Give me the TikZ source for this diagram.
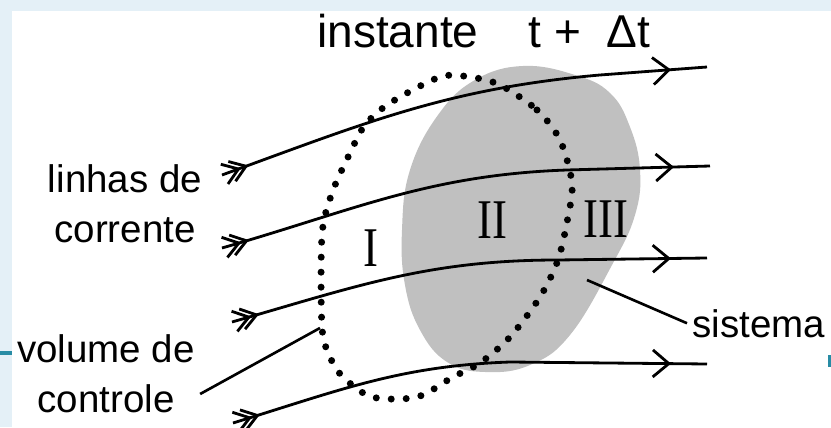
\documentclass[tikz,border=0pt]{standalone}
\usepackage{fontspec}
\setmainfont{Liberation Sans}
\newfontfamily\romfont[FakeStretch=0.8]{Liberation Serif}
\usetikzlibrary{arrows.meta,decorations.markings}
\definecolor{slidebg}{RGB}{228,240,247}
\definecolor{slideline}{RGB}{40,140,165}
\definecolor{blobgray}{RGB}{192,192,192}
\tikzset{
  streamline/.style={line width=1.6pt, postaction={decorate}, decoration={markings,
      mark=at position 0.40cm with {\arrow{Straight Barb[length=0.3cm,width=0.42cm]}},
      mark=at position 0.56cm with {\arrow{Straight Barb[length=0.3cm,width=0.42cm]}},
      mark=at position -0.72cm with {\arrow{Straight Barb[length=0.32cm,width=0.54cm]}}}},
  cvdots/.style={line width=0.14cm, line cap=round, dash pattern=on 0pt off 0.3cm},
  lbl/.style={font=\fontsize{21.9}{28.45}\selectfont, inner sep=0.1cm, align=center},
  roman/.style={font=\romfont\fontsize{31.9}{32}\selectfont, inner sep=0pt}
}
\begin{document}
\begin{tikzpicture}
    \useasboundingbox (0,0) rectangle (16.62,8.54);
    % slide background
    \fill[slidebg] (0,0) rectangle (16.62,8.54);
    \fill[white] (0.24,0) rectangle (16.62,8.32);
    \fill[slideline] (0,1.44) rectangle (0.24,1.52);
    \fill[slideline] (16.56,1.20) rectangle (16.62,1.44);
    % sistema
    \fill[blobgray] plot[smooth cycle, tension=0.7] coordinates {(10.46,7.22) (11.50,7.04) (12.20,6.68)
        (12.60,6.00) (12.80,5.14) (12.70,4.24) (12.24,3.24) (11.40,1.84) (10.60,1.24) (9.70,1.10)
        (8.94,1.30) (8.40,1.94) (8.10,2.84) (8.04,3.94) (8.20,5.14) (8.76,6.24) (9.50,6.94)};
    % linhas de corrente
    \draw[streamline] (4.44,5.04) to[out=20,in=185] (12.0,7.04) -- (14.14,7.20);
    \draw[streamline] (4.44,3.58) to[out=16,in=182] (11.34,5.14) -- (14.20,5.22);
    \draw[streamline] (4.64,2.10) to[out=16,in=180] (11.16,3.34) -- (14.14,3.38);
    \draw[streamline] (4.66,0.08) to[out=17,in=182] (10.20,1.30) -- (14.14,1.26);
    % volume de controle
    \draw[cvdots] plot[smooth cycle, tension=0.5] coordinates {(10.00,6.84) (10.74,6.34) (11.20,5.74)
        (11.44,4.88) (11.36,4.20) (11.16,3.34) (10.80,2.60) (10.20,1.80) (9.60,1.28) (9.06,1.00)
        (8.34,0.60) (7.44,0.60) (6.86,1.00) (6.60,1.40) (6.44,2.00) (6.44,3.84) (6.64,4.68)
        (7.00,5.48) (7.30,6.04) (7.80,6.48) (8.80,7.00) (9.40,7.00)};
    % textos
    \node[font=\fontsize{26.2}{30}\selectfont, inner sep=0pt, anchor=base west] (title) at (6.34,7.58)
        {instante\hspace{1.0cm}t\hspace{0.26cm}+\hspace{0.5cm}Δt};
    \node[lbl] (lc) at (2.50,4.46) {linhas de\\corrente};
    \node[lbl] (vc) at (2.12,1.06) {volume de\\controle};
    \node[lbl, anchor=base west] (sis) at (13.74,1.80) {sistema};
    \node[roman] (zone1) at (7.42,3.58) {I};
    \node[roman] (zone2) at (9.84,4.14) {II};
    \node[roman] (zone3) at (12.12,4.16) {III};
    \coordinate (cvedge) at (6.40,1.98);
    \coordinate (sysedge) at (11.74,2.94);
    \draw[line width=1.5pt] (vc.-12) -- (cvedge);
    \draw[line width=1.5pt] (sysedge) -- (sis.west);
\end{tikzpicture}
\end{document}
